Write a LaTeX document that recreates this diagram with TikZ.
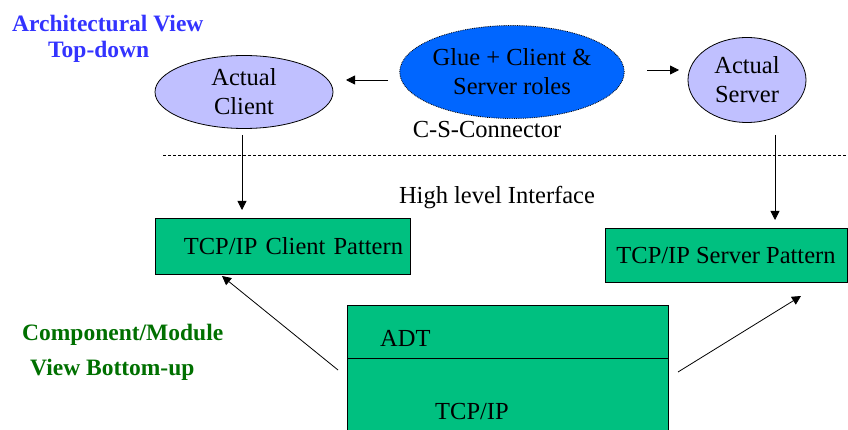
\documentclass[tikz,border=0pt]{standalone}
\usepackage{fontspec}
\setmainfont{Liberation Serif}
\usetikzlibrary{shapes.geometric,arrows.meta}
\definecolor{lavender}{RGB}{192,192,255}
\definecolor{glueblue}{RGB}{0,102,255}
\definecolor{boxgreen}{RGB}{0,192,128}
\definecolor{titleblue}{RGB}{51,51,255}
\definecolor{titlegreen}{RGB}{0,112,0}
\tikzset{
  txt/.style={font=\fontsize{24.5}{29}\selectfont, inner sep=0pt},
  roleell/.style={ellipse, draw=black, line width=0.8pt, fill=lavender, inner sep=0pt, align=center, txt},
  glueell/.style={ellipse, draw=black, densely dotted, line width=0.8pt, fill=glueblue, inner sep=0pt, align=center, txt},
  patbox/.style={rectangle, draw=black, line width=1pt, fill=boxgreen, inner sep=0pt, txt},
  viewtitle/.style={font=\fontsize{23.5}{26}\selectfont\bfseries, inner sep=0pt, align=left, anchor=west},
  arr/.style={-{Triangle[width=9pt,length=9pt]}, line width=0.8pt},
}
\begin{document}
\begin{tikzpicture}[x=1pt, y=-1pt]
\useasboundingbox (0,0) rectangle (848,430);
\fill[white] (0,0) rectangle (848,430);

% view titles
\node[viewtitle, text=titleblue] (archtitle) at (12,24) {Architectural View};
\node[viewtitle, text=titleblue] (toptitle) at (48,52) {Top-down};
\node[viewtitle, text=titlegreen] (comptitle) at (22,335) {Component/Module};
\node[viewtitle, text=titlegreen] (bottitle) at (30,370) {View Bottom-up};

% connector level
\node[roleell, minimum width=178, minimum height=73] (client) at (244,92) {Actual\\Client};
\node[glueell, minimum width=223, minimum height=93] (glue) at (512,72) {Glue + Client \&\\Server roles};
\node[roleell, minimum width=118, minimum height=85] (server) at (747,80) {Actual\\Server};
\node[txt] (csconn) at (487,130) {C-S-Connector};

\coordinate (glueW) at (388,80);
\coordinate (clientE) at (346,80);
\coordinate (glueE) at (647,70);
\coordinate (serverW) at (679,70);
\draw[arr] (glueW) -- (clientE);
\draw[arr] (glueE) -- (serverW);

% separation between the two views
\coordinate (sepL) at (163,155);
\coordinate (sepR) at (848,155);
\draw[line width=0.8pt, dash pattern=on 3pt off 2pt] (sepL) -- (sepR);

\node[txt] (hli) at (497,198) {High level Interface};

% patterns
\node[patbox, minimum width=255, minimum height=55, text width=241pt, align=right] (cpat) at (282.5,246.5) {TCP/IP Client Pattern};
\node[patbox, minimum width=242, minimum height=53] (spat) at (726,255.5) {TCP/IP Server Pattern};

\coordinate (cdown) at (242,135);
\coordinate (cend) at (242,210);
\coordinate (sdown) at (775,135);
\coordinate (send) at (775,220);
\draw[arr] (cdown) -- (cend);
\draw[arr] (sdown) -- (send);

% ADT over TCP/IP stack
\node[patbox, minimum width=321, minimum height=53, anchor=north west] (adt) at (347,305) {};
\node[patbox, minimum width=321, minimum height=80, anchor=north west] (tcpip) at (347,358) {};
\node[txt, anchor=base west] (adtlbl) at (380,346) {ADT};
\node[txt, anchor=base west] (tcplbl) at (435,419) {TCP/IP};

\coordinate (adtL) at (338,370);
\coordinate (cpatTip) at (222,276);
\coordinate (adtR) at (678,372);
\coordinate (spatTip) at (801,296);
\draw[arr] (adtL) -- (cpatTip);
\draw[arr] (adtR) -- (spatTip);
\end{tikzpicture}
\end{document}
